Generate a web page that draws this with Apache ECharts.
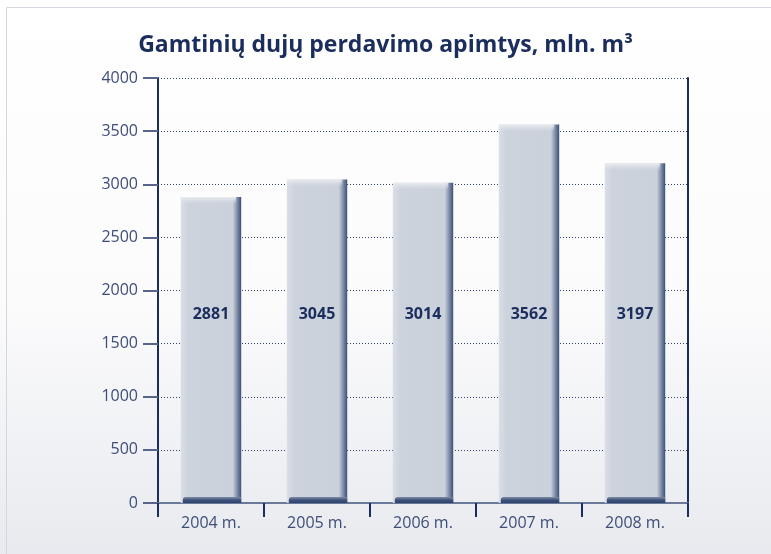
<!DOCTYPE html>
<html>
<head>
<meta charset="utf-8">
<script src="https://cdn.jsdelivr.net/npm/echarts@6/dist/echarts.min.js"></script>
<style>
  html, body { margin: 0; padding: 0; background: #fff; }
  #main { width: 771px; height: 554px; }
</style>
</head>
<body>
<div id="main"></div>
<script>
// data
const years = ['2004 m.', '2005 m.', '2006 m.', '2007 m.', '2008 m.'];
const volumes = [2881, 3045, 3014, 3562, 3197];
const yTicks = [0, 500, 1000, 1500, 2000, 2500, 3000, 3500, 4000];

const navy = '#1b2d5c';
const labelColor = '#3e4e78';

const chart = echarts.init(document.getElementById('main'));

// bar with a bit of a 3d look: light left, dark right edge, light cap, dark foot
function renderBar(params, api) {
  const idx = api.value(0);
  const top = api.coord([idx, api.value(1)]);
  const base = api.coord([idx, 0]);
  const w = api.size([1, 0])[0] * 0.57;
  const x = top[0] - w / 2;
  const y = top[1];
  const h = base[1] - top[1];
  const cs = params.coordSys;
  return {
    type: 'group',
    children: [
      {
        type: 'rect',
        shape: { x: x, y: y, width: w, height: h },
        style: {
          fill: new echarts.graphic.LinearGradient(0, 0, 1, 0, [
            { offset: 0, color: '#dadee6' },
            { offset: 0.12, color: '#cdd3dd' },
            { offset: 0.86, color: '#cbd1db' },
            { offset: 0.92, color: '#8d9ab2' },
            { offset: 1, color: '#3b4f78' }
          ])
        }
      },
      {
        type: 'rect',
        shape: { x: x, y: y, width: w - 5, height: 7 },
        style: {
          fill: new echarts.graphic.LinearGradient(0, 0, 0, 1, [
            { offset: 0, color: '#eaedf1' },
            { offset: 1, color: 'rgba(220,225,232,0)' }
          ])
        }
      },
      {
        type: 'rect',
        shape: { x: x + 2, y: base[1] - 6, width: w - 2, height: 6, r: [3, 0, 0, 0] },
        style: {
          fill: new echarts.graphic.LinearGradient(0, 0, 0, 1, [
            { offset: 0, color: '#7f8ca8' },
            { offset: 0.5, color: '#3f5279' },
            { offset: 1, color: '#2e4270' }
          ])
        }
      },
      {
        type: 'text',
        style: {
          x: top[0],
          y: cs.y + cs.height * 0.557,
          text: String(api.value(1)),
          align: 'center',
          verticalAlign: 'middle',
          fill: navy,
          font: 'bold 16px "Open Sans", sans-serif'
        }
      }
    ]
  };
}

chart.setOption({
  animation: false,
  backgroundColor: new echarts.graphic.LinearGradient(0, 0, 0, 1, [
    { offset: 0, color: '#ffffff' },
    { offset: 0.55, color: '#fbfbfc' },
    { offset: 1, color: '#e8eaef' }
  ]),
  graphic: [
    {
      type: 'polyline',
      shape: { points: [[6.5, 554], [6.5, 7.5], [771, 7.5]] },
      style: { stroke: '#d3d7df', lineWidth: 1, fill: null },
      silent: true
    }
  ],
  title: {
    text: 'Gamtinių dujų perdavimo apimtys, mln. m³',
    left: 'center',
    top: 29,
    textStyle: {
      color: navy,
      fontFamily: 'Open Sans',
      fontWeight: 'bold',
      fontSize: 23
    }
  },
  grid: { left: 158, right: 83, top: 78, bottom: 51, containLabel: false },
  xAxis: {
    type: 'category',
    data: years,
    boundaryGap: true,
    axisLine: { lineStyle: { color: '#6b7a99', width: 2 } },
    axisTick: { show: true, length: 14, lineStyle: { color: navy, width: 2 } },
    axisLabel: { color: labelColor, fontSize: 16, fontFamily: 'Open Sans', margin: 12 },
    splitLine: { show: false }
  },
  yAxis: [
    {
      type: 'value',
      min: 0,
      max: 4000,
      interval: 500,
      axisLine: { show: true, lineStyle: { color: navy, width: 2 } },
      axisTick: { show: true, length: 15, lineStyle: { color: '#56668a', width: 2 } },
      axisLabel: {
        color: labelColor,
        fontSize: 16,
        fontFamily: 'Open Sans',
        margin: 20,
        formatter: function (v) { return yTicks.indexOf(v) >= 0 ? String(v) : ''; }
      },
      splitLine: { show: true, lineStyle: { color: '#2f4270', type: [1, 2], width: 1 } }
    },
    {
      type: 'value',
      min: 0,
      max: 4000,
      interval: 500,
      position: 'right',
      axisLine: { show: true, lineStyle: { color: navy, width: 2 } },
      axisTick: { show: false },
      axisLabel: { show: false },
      splitLine: { show: false }
    }
  ],
  series: [
    {
      type: 'custom',
      renderItem: renderBar,
      encode: { x: 0, y: 1 },
      data: volumes.map(function (v, i) { return [i, v]; }),
      z: 3
    }
  ]
});
</script>
</body>
</html>
